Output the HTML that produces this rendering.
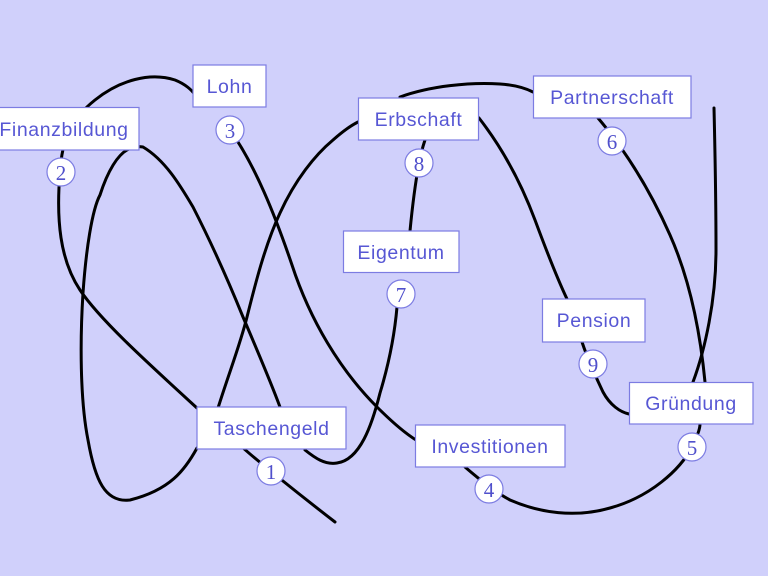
<!DOCTYPE html>
<html><head><meta charset="utf-8"><style>
html,body{margin:0;padding:0;width:768px;height:576px;overflow:hidden;background:#d0d0fb}
svg{display:block}
.b{fill:#fff;stroke:#7c7ce2;stroke-width:1.2}
.t{font-family:"Liberation Sans",sans-serif;font-size:19.5px;fill:#5757d4;text-anchor:middle;letter-spacing:0.6px}
.c{fill:#fff;stroke:#7c7ce2;stroke-width:1.2}
.n{font-family:"Liberation Serif",serif;font-size:21px;fill:#5050cc;text-anchor:middle}
path{fill:none;stroke:#000;stroke-width:3;stroke-linecap:round}
</style></head><body>
<svg width="768" height="576" viewBox="0 0 768 576">
<rect width="768" height="576" fill="#d0d0fb"/>
<!-- curves -->
<path d="M335,522 C300,495 250,455 240,445"/>
<path d="M197,408 C150,365 100,320 80,290 C60,260 56,220 60,172 C62,140 70,120 95,100 C120,80 150,72 175,80 C185,84 192,90 195,95"/>
<path d="M230,130 C255,165 275,215 292,265 C310,320 340,370 377,407 C395,425 408,435 416,440"/>
<path d="M465,467 C480,480 495,492 510,500 C540,513 575,518 610,508 C650,497 680,470 692,447 C698,435 700,428 700,424"/>
<path d="M693,382 C705,350 716,300 716,250 C716,200 715,150 714,108"/>
<path d="M197,448 C185,470 170,490 130,500 C105,503 95,480 88,440 C80,400 80,340 83,293 C86,250 92,210 100,195 C108,170 118,155 127,150 C132,147 138,146 143,147 C165,160 180,185 193,207 C215,250 230,285 243,317 C255,345 270,380 280,407"/>
<path d="M218,408 C230,370 240,345 247,317 C255,285 265,245 280,213 C295,180 315,155 333,140 C342,132 350,126 358,122"/>
<path d="M400,97 C430,86 470,82 500,84 C515,85 525,88 533,92"/>
<path d="M305,450 C315,458 325,465 337,463 C360,460 372,425 380,393 C390,360 395,330 397,307 C398,300 400,296 401,294"/>
<path d="M410,231 C412,210 415,185 419,163 C421,153 423,146 425,140"/>
<path d="M479,118 C500,145 520,180 535,220 C548,255 558,280 567,299"/>
<path d="M582,342 C588,360 595,375 603,392 C610,405 620,412 629,414"/>
<path d="M598,118 C625,150 650,190 670,235 C690,280 700,330 705,382"/>
<!-- boxes -->
<rect class="b" x="-10" y="107.5" width="149" height="42.5"/><text class="t" x="64" y="136">Finanzbildung</text>
<rect class="b" x="193" y="65" width="73" height="42"/><text class="t" x="229.5" y="93">Lohn</text>
<rect class="b" x="358.5" y="98" width="120" height="42"/><text class="t" x="418.5" y="126">Erbschaft</text>
<rect class="b" x="533.5" y="76" width="157.5" height="42"/><text class="t" x="612" y="104">Partnerschaft</text>
<rect class="b" x="343.5" y="231" width="115.5" height="41.5"/><text class="t" x="401" y="259">Eigentum</text>
<rect class="b" x="542.5" y="299" width="102.5" height="43"/><text class="t" x="594" y="327">Pension</text>
<rect class="b" x="629.5" y="382.5" width="123.5" height="41.5"/><text class="t" x="691" y="410">Gründung</text>
<rect class="b" x="197" y="407" width="149" height="42"/><text class="t" x="271.5" y="435">Taschengeld</text>
<rect class="b" x="415.5" y="425" width="149.5" height="42"/><text class="t" x="490" y="453">Investitionen</text>
<!-- numbers -->
<g>
<circle class="c" cx="271" cy="471" r="14"/><text class="n" x="271" y="479">1</text>
<circle class="c" cx="61" cy="172" r="14"/><text class="n" x="61" y="180">2</text>
<circle class="c" cx="230" cy="130" r="14"/><text class="n" x="230" y="138">3</text>
<circle class="c" cx="489" cy="489" r="14"/><text class="n" x="489" y="497">4</text>
<circle class="c" cx="692" cy="447" r="14"/><text class="n" x="692" y="455">5</text>
<circle class="c" cx="612" cy="141" r="14"/><text class="n" x="612" y="149">6</text>
<circle class="c" cx="401" cy="294" r="14"/><text class="n" x="401" y="302">7</text>
<circle class="c" cx="419" cy="163" r="14"/><text class="n" x="419" y="171">8</text>
<circle class="c" cx="593" cy="364" r="14"/><text class="n" x="593" y="372">9</text>
</g>
</svg>
</body></html>
